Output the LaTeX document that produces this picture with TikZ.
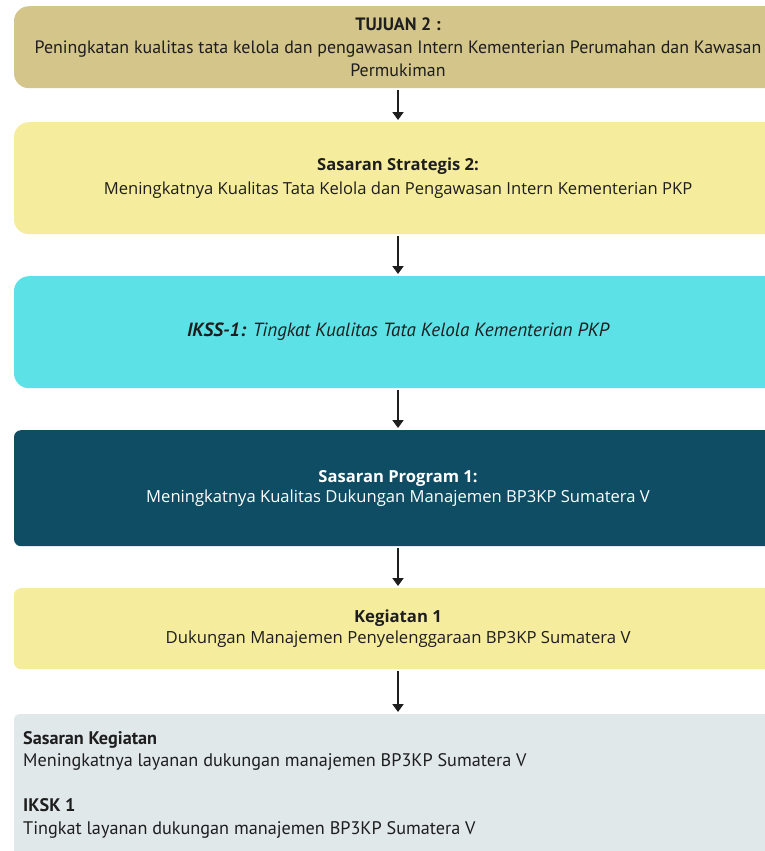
\documentclass[tikz,border=0pt]{standalone}
\usepackage{fontspec}
\setmainfont{Open Sans}
\newfontfamily\pts{PT Sans}
\usetikzlibrary{arrows.meta}
\definecolor{tan}{HTML}{D4C58A}
\definecolor{paley}{HTML}{F6EC9E}
\definecolor{cyanb}{HTML}{5CE1E6}
\definecolor{teal}{HTML}{0E4D63}
\definecolor{greyb}{HTML}{E1E8EA}
\definecolor{ink}{HTML}{1E1E1E}
\tikzset{
  box/.style={anchor=north, minimum width=768pt, inner sep=0pt, align=center, text=ink},
  arr/.style={line width=2pt, draw=ink, -{Triangle[length=8pt,width=11pt]}, shorten <=2pt, shorten >=2pt},
}
\begin{document}
\begin{tikzpicture}[x=1pt,y=-1pt]
\useasboundingbox (0,0) rectangle (765,851);
\clip (0,0) rectangle (765,851);
\fill[white] (0,0) rectangle (765,851);
\node[box, fill=tan, rounded corners=15pt, minimum height=82pt, font={\pts\fontsize{17.9}{23}\selectfont}] (b1) at (398,6)
  {\textbf{TUJUAN 2 :}\\Peningkatan kualitas tata kelola dan pengawasan Intern Kementerian Perumahan dan Kawasan\\Permukiman};
\node[box, fill=paley, rounded corners=15pt, minimum height=112pt, font={\fontsize{16.6}{24}\selectfont}] (b2) at (398,122)
  {\textbf{Sasaran Strategis 2:}\\Meningkatnya Kualitas Tata Kelola dan Pengawasan Intern Kementerian PKP};
\node[box, fill=cyanb, rounded corners=15pt, minimum height=112pt, font={\pts\fontsize{19.1}{23}\selectfont\itshape}] (b3) at (398,276)
  {\textbf{IKSS-1:} Tingkat Kualitas Tata Kelola Kementerian PKP};
\node[box, fill=teal, text=white, rounded corners=7pt, minimum height=116pt, font={\fontsize{16.6}{20}\selectfont}] (b4) at (398,430)
  {\textbf{Sasaran Program 1:}\\Meningkatnya Kualitas Dukungan Manajemen BP3KP Sumatera V};
\node[box, fill=paley, rounded corners=7pt, minimum height=81pt, font={\fontsize{16.7}{21}\selectfont}] (b5) at (398,588)
  {\textbf{Kegiatan 1}\\Dukungan Manajemen Penyelenggaraan BP3KP Sumatera V};
\node[box, fill=greyb, rounded corners=5pt, minimum height=160pt] (b6) at (398,714) {};
\node[anchor=north west, inner sep=0pt, align=left, text=ink, font={\pts\fontsize{18.2}{22.5}\selectfont}] (t6) at (23,731)
  {\textbf{Sasaran Kegiatan}\\Meningkatnya layanan dukungan manajemen BP3KP Sumatera V\\[22.5pt]\textbf{IKSK 1}\\Tingkat layanan dukungan manajemen BP3KP Sumatera V};
\draw[arr] (b1.south) -- (b2.north);
\draw[arr] (b2.south) -- (b3.north);
\draw[arr] (b3.south) -- (b4.north);
\draw[arr] (b4.south) -- (b5.north);
\draw[arr] (b5.south) -- (b6.north);
\end{tikzpicture}
\end{document}
